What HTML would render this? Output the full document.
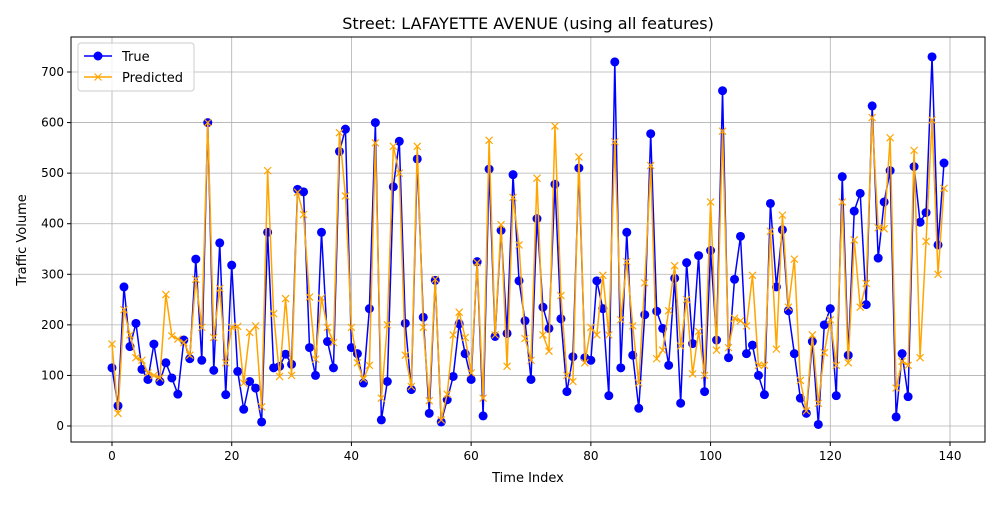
<!DOCTYPE html>
<html><head><meta charset="utf-8"><style>
body{margin:0;background:#fff;font-family:"Liberation Sans","DejaVu Sans",sans-serif;}
svg text{font-family:"DejaVu Sans","Liberation Sans",sans-serif;}
</style></head><body>
<svg id="chart" width="1000" height="500">
<text x="528" y="29" text-anchor="middle" font-size="16">Street: LAFAYETTE AVENUE (using all features)</text>
<g id="grid"></g><g id="axes"></g><g id="series"></g>
<text x="528" y="482" text-anchor="middle" font-size="13">Time Index</text>
<text transform="translate(26,240) rotate(-90)" text-anchor="middle" font-size="13">Traffic Volume</text>
<g>
<rect x="78" y="43" width="116" height="48" rx="3" fill="#fff" fill-opacity="0.8" stroke="#ccc"/>
<g>
<line x1="84" y1="56" x2="112" y2="56" stroke="blue" stroke-width="1.5"/><circle cx="98" cy="56" r="4.5" fill="blue"/>
<text x="122" y="61" font-size="13">True</text></g>
<g>
<line x1="84" y1="77" x2="112" y2="77" stroke="orange" stroke-width="1.5"/><path d="M94.5 73.5l7 7M101.5 73.5l-7 7" stroke="orange" stroke-width="1.2"/>
<text x="122" y="82" font-size="13">Predicted</text></g>
</g>
</svg>
<script>
const trueVals=[115,40,275,157,203,112,92,162,88,125,95,63,170,133,330,130,600,110,362,62,318,108,33,88,75,8,383,115,118,142,122,468,463,155,100,383,167,115,543,587,155,143,85,232,600,12,88,473,563,203,72,528,215,25,288,8,52,98,202,143,92,325,20,508,177,387,183,497,287,208,92,410,235,193,478,212,68,137,510,135,130,287,232,60,720,115,383,140,35,220,578,227,193,120,292,45,323,163,337,68,347,170,663,135,290,375,143,160,100,62,440,275,388,228,143,55,25,167,3,200,232,60,493,140,425,460,240,633,332,443,505,18,143,58,513,403,422,730,358,520];
const predVals=[162,25,230,180,135,130,105,100,95,260,178,172,165,140,290,195,600,175,272,125,195,197,85,185,198,38,505,222,98,252,100,462,418,255,132,253,195,165,580,455,195,125,93,120,560,55,200,553,500,140,78,553,195,50,290,12,63,180,225,175,105,323,55,565,180,398,118,452,358,173,130,490,180,148,593,258,100,88,532,125,195,180,298,180,562,210,325,198,85,283,515,133,150,228,317,158,250,103,187,100,443,150,583,155,213,208,198,298,120,120,385,152,417,235,330,90,30,180,45,145,210,120,443,125,368,235,282,610,392,390,570,75,128,120,545,135,365,605,300,470];
const xTicks=[0,20,40,60,80,100,120,140];
const yTicks=[0,100,200,300,400,500,600,700];
const L=71,R=985,T=37,B=442;
const xs=v=>112+v*(950-112)/140;
const ys=v=>426-v*(426-72)/700;
const NS="http://www.w3.org/2000/svg";
const svg=document.getElementById('chart');
const grid=document.getElementById('grid'),axes=document.getElementById('axes'),ser=document.getElementById('series');
function mk(t,a,p){const e=document.createElementNS(NS,t);for(const k in a)e.setAttribute(k,a[k]);p.appendChild(e);return e;}
xTicks.forEach(t=>{const x=xs(t);
mk('line',{x1:x,y1:T,x2:x,y2:B,stroke:'#b0b0b0','stroke-width':0.8},grid);
mk('line',{x1:x,y1:B,x2:x,y2:B+4,stroke:'#000'},axes);
const tx=mk('text',{x:x,y:B+18,'text-anchor':'middle','font-size':12},axes);tx.textContent=t;

});
yTicks.forEach(t=>{const y=ys(t);
mk('line',{x1:L,y1:y,x2:R,y2:y,stroke:'#b0b0b0','stroke-width':0.8},grid);
mk('line',{x1:L-4,y1:y,x2:L,y2:y,stroke:'#000'},axes);
const tx=mk('text',{x:L-7,y:y+4,'text-anchor':'end','font-size':12},axes);tx.textContent=t;

});
mk('rect',{x:L,y:T,width:R-L,height:B-T,fill:'none',stroke:'#000','stroke-width':1},axes);
const tl=mk('polyline',{points:trueVals.map((v,i)=>xs(i)+','+ys(v)).join(' '),fill:'none',stroke:'blue','stroke-width':1.5},ser);


trueVals.forEach((v,i)=>{const c=mk('circle',{cx:xs(i),cy:ys(v),r:4.5,fill:'blue'},ser);

});
const pl=mk('polyline',{points:predVals.map((v,i)=>xs(i)+','+ys(v)).join(' '),fill:'none',stroke:'orange','stroke-width':1.5},ser);


predVals.forEach((v,i)=>{const x=xs(i),y=ys(v);
const p=mk('path',{d:`M${x-3.5} ${y-3.5}l7 7M${x+3.5} ${y-3.5}l-7 7`,stroke:'orange','stroke-width':1.2},ser);

});
</script>
</body></html>
